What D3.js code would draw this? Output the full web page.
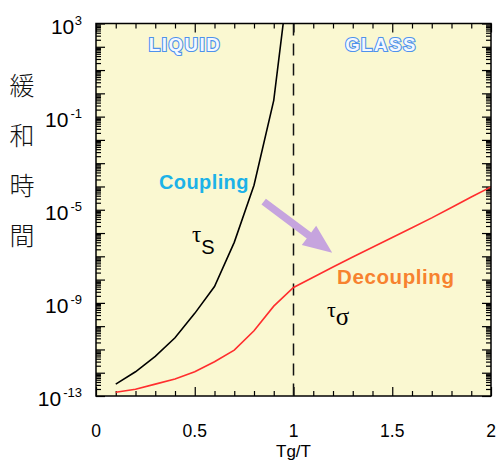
<!DOCTYPE html>
<html><head><meta charset="utf-8">
<script src="https://cdn.jsdelivr.net/npm/d3@7"></script>
<style>
html,body{margin:0;padding:0;background:#fff;}
svg{display:block;}
</style></head>
<body>
<svg id="chart" width="499" height="461"></svg>
<script>
// ---- data ----
const tgOverT = [0.1,0.2,0.3,0.4,0.5,0.6,0.7,0.8,0.9,1.0,1.1,1.2,1.3,1.4,1.5,1.6,1.7,1.8,1.9,2.0];
// log10 of relaxation times
const tauS_x = [0.1,0.2,0.3,0.4,0.5,0.6,0.7,0.8,0.9,1.0];
const tauS_log = [-12.49,-11.96,-11.3,-10.5,-9.45,-8.3,-6.4,-3.95,-0.3,6.6];
const tauSigma_log = [-12.84,-12.71,-12.49,-12.27,-11.96,-11.53,-11.03,-10.2,-9.14,-8.34,
                      -7.9,-7.46,-7.03,-6.61,-6.19,-5.77,-5.35,-4.9,-4.45,-4.02];
const xTicksMajor = [0,0.5,1,1.5,2];
const xTickLabels = ["0","0.5","1","1.5","2"];
const yLabelExps = [3,-1,-5,-9,-13];
const yTitle = ["緩","和","時","間"];
const glassTransition = 1;
const arrowFrom = [0.849,-4.65];   // [Tg/T, log10 tau]
const arrowTo = [1.196,-6.85];

// ---- layout ----
const svg = d3.select("#chart");
const L = 96, R = 491, T = 23.5, B = 396;
const x = d3.scaleLinear().domain([0,2]).range([L,R]);
const y = d3.scaleLog().domain([1e-13,1e3]).range([B,T]);

svg.append("rect").attr("x",L).attr("y",T).attr("width",R-L).attr("height",B-T)
  .attr("fill","#FAF8D1");

svg.append("clipPath").attr("id","clip").append("rect")
  .attr("x",L).attr("y",T).attr("width",R-L).attr("height",B-T);

// ticks
const decades = d3.range(-13,4).map(e=>Math.pow(10,e));
const minorY = [];
for(let e=-13;e<3;e++) for(let m=2;m<=9;m++) minorY.push(m*Math.pow(10,e));
const xMinor = d3.range(0,21).map(i=>i/10).filter(v=>Math.abs(v*2-Math.round(v*2))>1e-6);

function ax(axis, tr){
  const g = svg.append("g").attr("transform",tr).call(axis);
  g.select(".domain").remove();
  g.selectAll("line").attr("stroke","#000").attr("stroke-width",1.2);
  g.selectAll("text").remove();
  return g;
}
const MJ=9, MN=5;
ax(d3.axisLeft(y).tickValues(decades).tickSizeInner(-MJ).tickSizeOuter(0), `translate(${L},0)`);
ax(d3.axisLeft(y).tickValues(minorY).tickSizeInner(-MN).tickSizeOuter(0), `translate(${L},0)`);
ax(d3.axisRight(y).tickValues(decades).tickSizeInner(-MJ).tickSizeOuter(0), `translate(${R},0)`);
ax(d3.axisRight(y).tickValues(minorY).tickSizeInner(-MN).tickSizeOuter(0), `translate(${R},0)`);
ax(d3.axisBottom(x).tickValues(xTicksMajor).tickSizeInner(-MJ).tickSizeOuter(0), `translate(0,${B})`);
ax(d3.axisBottom(x).tickValues(xMinor).tickSizeInner(-MN).tickSizeOuter(0), `translate(0,${B})`);
ax(d3.axisTop(x).tickValues(xTicksMajor).tickSizeInner(-MJ).tickSizeOuter(0), `translate(0,${T})`);
ax(d3.axisTop(x).tickValues(xMinor).tickSizeInner(-MN).tickSizeOuter(0), `translate(0,${T})`);

// y tick labels
const FONT = "'Liberation Sans', Arial, Helvetica, sans-serif";
yLabelExps.forEach(e=>{
  const t = svg.append("text").attr("x",82).attr("y",y(Math.pow(10,e))+10)
    .attr("text-anchor","end").attr("font-family",FONT).attr("font-size",21).attr("fill","#000");
  t.append("tspan").text("10");
  t.append("tspan").attr("dy",-9).attr("dx",e<0?2:0.5).attr("font-size",13).text(String(e));
});
// x tick labels
xTicksMajor.forEach((v,i)=>{
  svg.append("text").attr("x",x(v)).attr("y",437).attr("text-anchor","middle")
    .attr("font-family",FONT).attr("font-size",17.5).attr("fill","#000").text(xTickLabels[i]);
});
svg.append("text").attr("x",x(1)).attr("y",457).attr("text-anchor","middle")
  .attr("font-family",FONT).attr("font-size",17).attr("fill","#000").text("Tg/T");

// y title (vertical)
yTitle.forEach((c,i)=>{
  svg.append("text").attr("x",22).attr("y",84+i*50).attr("text-anchor","middle")
    .attr("dominant-baseline","central")
    .attr("font-family","'Noto Sans CJK JP', sans-serif").attr("font-size",25).attr("font-weight",300)
    .attr("fill","#111").text(c);
});

// dashed line at Tg
svg.append("line").attr("x1",x(glassTransition)).attr("x2",x(glassTransition))
  .attr("y1",T).attr("y2",B).attr("stroke","#111").attr("stroke-width",1.5)
  .attr("stroke-dasharray","12,8");

// curves
const line = d3.line().x(d=>x(d[0])).y(d=>y(Math.pow(10,d[1])));
const plot = svg.append("g").attr("clip-path","url(#clip)");
plot.append("path").datum(tauS_x.map((v,i)=>[v,tauS_log[i]]))
  .attr("d",line).attr("fill","none").attr("stroke","#000").attr("stroke-width",1.6);
plot.append("path").datum(tgOverT.map((v,i)=>[v,tauSigma_log[i]]))
  .attr("d",line).attr("fill","none").attr("stroke","#FF2E2E").attr("stroke-width",1.6);

// arrow
(function(){
  const x0=x(arrowFrom[0]), y0=y(Math.pow(10,arrowFrom[1]));
  const x1=x(arrowTo[0]), y1=y(Math.pow(10,arrowTo[1]));
  const dx=x1-x0, dy=y1-y0, len=Math.hypot(dx,dy);
  const ux=dx/len, uy=dy/len, nx=-uy, ny=ux;
  const hw=3.7, hl=29, hh=12;
  const bx=x1-ux*hl, by=y1-uy*hl;
  const pts=[[x0+nx*hw,y0+ny*hw],[bx+nx*hw,by+ny*hw],[bx+nx*hh,by+ny*hh],[x1,y1],
             [bx-nx*hh,by-ny*hh],[bx-nx*hw,by-ny*hw],[x0-nx*hw,y0-ny*hw]];
  svg.append("polygon").attr("points",pts.map(p=>p.join(",")).join(" ")).attr("fill","#C6A4DE");
})();

// border
svg.append("rect").attr("x",L).attr("y",T).attr("width",R-L).attr("height",B-T)
  .attr("fill","none").attr("stroke","#000").attr("stroke-width",1.5);

// region labels
[["LIQUID",185],["GLASS",381]].forEach(([s,cx])=>{
  svg.append("text").attr("x",cx).attr("y",51).attr("text-anchor","middle")
    .attr("font-family",FONT).attr("font-weight","bold").attr("font-size",18.5)
    .attr("letter-spacing",1.6).attr("fill","#F4F8FF").attr("stroke","#4E92EC")
    .attr("stroke-width",2.2).attr("paint-order","stroke").text(s);
});

// annotations
svg.append("text").attr("x",159).attr("y",189).attr("font-family",FONT).attr("font-weight","bold")
  .attr("font-size",20).attr("letter-spacing",0.4).attr("fill","#1CB2E8").text("Coupling");
svg.append("text").attr("x",337).attr("y",284).attr("font-family",FONT).attr("font-weight","bold")
  .attr("font-size",20.5).attr("letter-spacing",0.6).attr("fill","#F7822F").text("Decoupling");

const SERIF="'Liberation Serif','DejaVu Serif',serif";
const ts = svg.append("text").attr("x",192).attr("y",242).attr("font-family",SERIF).attr("font-size",23).attr("fill","#000");
ts.append("tspan").text("τ");
ts.append("tspan").attr("dy",12).attr("font-family",FONT).attr("font-size",20).text("S");
const tg = svg.append("text").attr("x",327).attr("y",317).attr("font-family",SERIF).attr("font-size",22).attr("fill","#000");
tg.append("tspan").text("τ");
tg.append("tspan").attr("dy",8).attr("font-size",25).text("σ");
</script>
</body></html>
